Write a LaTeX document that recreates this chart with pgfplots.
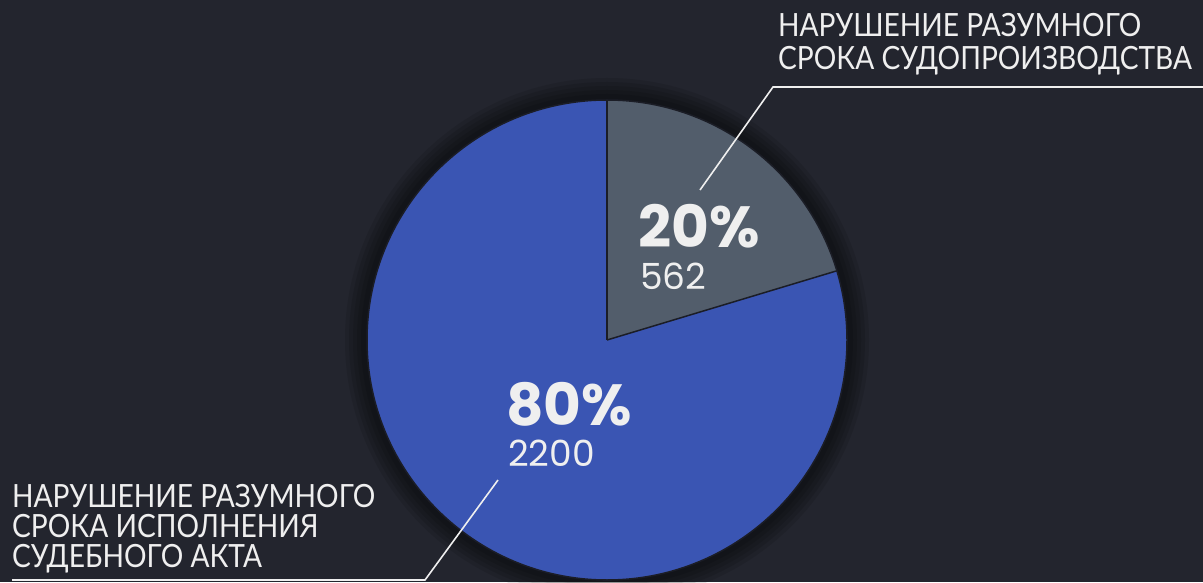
\documentclass[border=0pt]{standalone}
\usepackage{pgfplots}
\pgfplotsset{compat=1.18}
\usepackage{pgfplotstable}
\usepackage{fontspec}
\setmainfont{Lato}
\newfontfamily\pop{Poppins}
\definecolor{bg}{HTML}{23252E}
\definecolor{pieblue}{HTML}{3A55B3}
\definecolor{piegrey}{HTML}{525D6B}
\definecolor{edge}{HTML}{1B1D26}
\definecolor{txt}{HTML}{EFEFEF}
\pgfplotstableread{
label value
A 562
B 2200
}\piedata
\begin{document}
\begin{tikzpicture}
\useasboundingbox (0,0) rectangle (1203pt,582pt);
\pgfplotstablegetelem{0}{value}\of\piedata \let\va\pgfplotsretval
\pgfplotstablegetelem{1}{value}\of\piedata \let\vb\pgfplotsretval
\pgfmathsetmacro\frA{\va/(\va+\vb)}
\pgfmathsetmacro\angA{360*\frA}
\pgfmathsetmacro\endA{90-\angA}
\begin{axis}[
  at={(0,0)}, anchor=south west,
  scale only axis, width=1203pt, height=582pt,
  xmin=0, xmax=1203, ymin=0, ymax=582,
  hide axis, clip=false,
]
\fill[bg] (axis cs:0,0) rectangle (axis cs:1203,582);
% soft shadow
\fill[black, opacity=0.10] (axis cs:607,242) circle[radius=262pt];
\fill[black, opacity=0.10] (axis cs:607,242) circle[radius=258pt];
\fill[black, opacity=0.10] (axis cs:607,242) circle[radius=254pt];
\fill[black, opacity=0.10] (axis cs:607,242) circle[radius=250pt];
\fill[black, opacity=0.10] (axis cs:607,242) circle[radius=246pt];
% slices
\fill[piegrey] (axis cs:607,242) -- ++(90:240pt) arc[start angle=90, end angle=\endA, radius=240pt] -- cycle;
\fill[pieblue] (axis cs:607,242) -- ++(\endA:240pt) arc[start angle=\endA, end angle=-270, radius=240pt] -- cycle;
\draw[edge, line width=1.5pt] (axis cs:607,242) -- ++(90:240pt);
\draw[edge, line width=1.5pt] (axis cs:607,242) -- ++(\endA:240pt);
\draw[edge, line width=1.5pt] (axis cs:607,242) circle[radius=240pt];
% leader lines
\draw[txt, line width=1.6pt] (axis cs:1203,495) -- (axis cs:773,495) -- (axis cs:700,392);
\draw[txt, line width=1.6pt] (axis cs:12,2) -- (axis cs:425,2) -- (axis cs:498,102);
% values
\node[anchor=base west, inner sep=0pt, text=txt, font=\pop\bfseries\fontsize{58}{60}\selectfont] at (axis cs:638,334) {20\%};
\node[anchor=base west, inner sep=0pt, text=txt, font=\pop\fontsize{36}{38}\selectfont] at (axis cs:640,292) {562};
\node[anchor=base west, inner sep=0pt, text=txt, font=\pop\bfseries\fontsize{58}{60}\selectfont] at (axis cs:506,157) {80\%};
\node[anchor=base west, inner sep=0pt, text=txt, font=\pop\fontsize{36}{38}\selectfont] at (axis cs:508,116) {2200};
% labels
\node[anchor=base west, inner sep=0pt, text=txt, xscale=0.88, font=\fontsize{32}{34}\selectfont] at (axis cs:778,545) {НАРУШЕНИЕ РАЗУМНОГО};
\node[anchor=base west, inner sep=0pt, text=txt, xscale=0.88, font=\fontsize{32}{34}\selectfont] at (axis cs:778,512) {СРОКА СУДОПРОИЗВОДСТВА};
\node[anchor=base west, inner sep=0pt, text=txt, xscale=0.88, font=\fontsize{32}{34}\selectfont] at (axis cs:12,75) {НАРУШЕНИЕ РАЗУМНОГО};
\node[anchor=base west, inner sep=0pt, text=txt, xscale=0.88, font=\fontsize{32}{34}\selectfont] at (axis cs:12,45) {СРОКА ИСПОЛНЕНИЯ};
\node[anchor=base west, inner sep=0pt, text=txt, xscale=0.88, font=\fontsize{32}{34}\selectfont] at (axis cs:12,15) {СУДЕБНОГО АКТА};
\end{axis}
\end{tikzpicture}
\end{document}
